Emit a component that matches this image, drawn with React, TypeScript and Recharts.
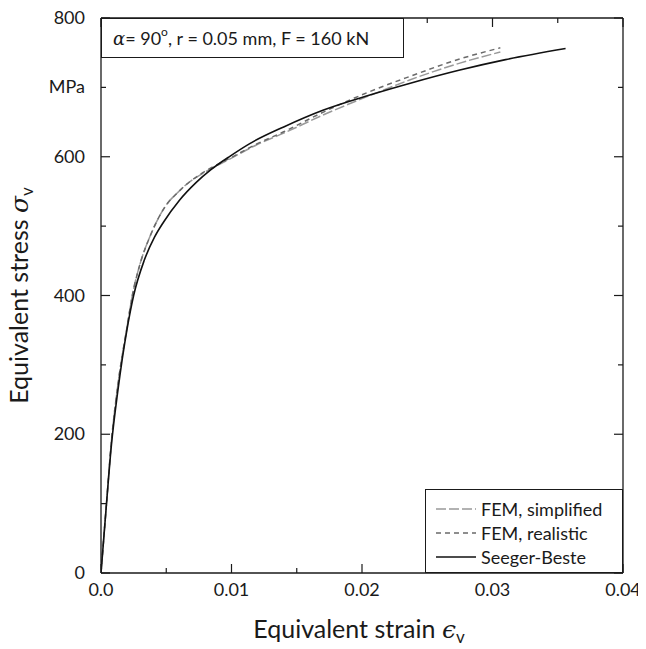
import React from 'react';
import { LineChart, Line, XAxis, YAxis, Legend } from 'recharts';

// ---- data (strain [-], stress [MPa]) ----
const strainSimplified = [0, 0.0004, 0.0008, 0.0013, 0.002, 0.0024, 0.003, 0.00375, 0.0045, 0.0051, 0.0058, 0.0068, 0.0078, 0.0099, 0.0119, 0.014, 0.017, 0.0211, 0.0237, 0.0275, 0.0306];
const stressSimplified = [0, 95, 190, 272, 355, 400, 446, 485, 515, 533, 547, 564, 576, 597, 617, 634, 660, 692, 711, 735, 751];

const strainRealistic = [0, 0.0004, 0.0008, 0.0013, 0.002, 0.0024, 0.003, 0.00375, 0.0045, 0.0051, 0.0058, 0.0068, 0.0078, 0.0099, 0.0119, 0.014, 0.017, 0.0206, 0.0237, 0.0275, 0.0306];
const stressRealistic = [0, 95, 190, 272, 355, 400, 446, 485, 515, 533, 547, 564, 577, 598, 618, 636, 664, 694, 716, 741, 757];

const strainSeeger = [0, 0.0004, 0.0008, 0.0013, 0.002, 0.0025, 0.0033, 0.0041, 0.0048, 0.006, 0.0073, 0.0084, 0.0099, 0.0114, 0.014, 0.017, 0.0206, 0.0237, 0.0275, 0.031, 0.0356];
const stressSeeger = [0, 95, 185, 264, 352, 400, 450, 484, 506, 537, 563, 581, 601, 619, 643, 667, 689, 706, 725, 740, 756];

const seriesNames = ['FEM, simplified', 'FEM, realistic', 'Seeger-Beste'];

const xTicks = [0, 0.005, 0.01, 0.015, 0.02, 0.025, 0.03, 0.035, 0.04];
const xTickLabels: Record<string, string> = { '0': '0.0', '0.01': '0.01', '0.02': '0.02', '0.03': '0.03', '0.04': '0.04' };
const yTicks = [0, 100, 200, 300, 400, 500, 600, 700, 800];
const yTickLabels: Record<string, string> = { '0': '0', '200': '200', '400': '400', '600': '600', '700': 'MPa', '800': '800' };

const toPoints = (xs: number[], ys: number[]) => xs.map((x, i) => ({ x, y: ys[i] }));
const dataSimplified = toPoints(strainSimplified, stressSimplified);
const dataRealistic = toPoints(strainRealistic, stressRealistic);
const dataSeeger = toPoints(strainSeeger, stressSeeger);

const FONT = "Lato, 'Open Sans', sans-serif";
const MATH = "'DejaVu Serif', 'Liberation Serif', serif";
const INK = '#1a1a1a';

const COL_SIMPLIFIED = '#999999';
const COL_REALISTIC = '#6a6a6a';
const COL_SEEGER = '#111111';

const isMajorX = (v: number) => Math.abs(v * 100 - Math.round(v * 100)) < 1e-6;
const isMajorY = (v: number) => v % 200 === 0;

const BottomTick = (props: any) => {
  const { x, y, payload } = props;
  const v = payload.value;
  const major = isMajorX(v);
  const lbl = xTickLabels[String(v)];
  return (
    <g>
      <line x1={x} x2={x} y1={y} y2={y - (major ? 9 : 5)} stroke={INK} strokeWidth={1.2} />
      {lbl && (
        <text x={x} y={y + 23} textAnchor="middle" fontSize={18} fontFamily={FONT} fill={INK}>{lbl}</text>
      )}
    </g>
  );
};

const TopTick = (props: any) => {
  const { x, y, payload } = props;
  const major = isMajorX(payload.value);
  return <line x1={x} x2={x} y1={y} y2={y + (major ? 9 : 5)} stroke={INK} strokeWidth={1.2} />;
};

const LeftTick = (props: any) => {
  const { x, y, payload } = props;
  const v = payload.value;
  const major = isMajorY(v);
  const lbl = yTickLabels[String(v)];
  return (
    <g>
      <line x1={x} x2={x + (major ? 9 : 5)} y1={y} y2={y} stroke={INK} strokeWidth={1.2} />
      {lbl && (
        <text x={x - 16} y={y + 6} textAnchor="end" fontSize={18} fontFamily={FONT} fill={INK}>{lbl}</text>
      )}
    </g>
  );
};

const RightTick = (props: any) => {
  const { x, y, payload } = props;
  const major = isMajorY(payload.value);
  return <line x1={x} x2={x - (major ? 9 : 5)} y1={y} y2={y} stroke={INK} strokeWidth={1.2} />;
};

const XTitle = (props: any) => {
  const vb = props.viewBox || {};
  const cx = vb.x + vb.width / 2 - 3;
  return (
    <text x={cx} y={vb.y + 65} textAnchor="middle" fontSize={25} fontFamily={FONT} fill={INK}>
      Equivalent strain{' '}
      <tspan fontFamily={MATH} fontStyle="italic">ϵ</tspan>
      <tspan fontSize={17} dy={5}>v</tspan>
    </text>
  );
};

const YTitle = (props: any) => {
  const vb = props.viewBox || {};
  const cy = vb.y + vb.height / 2;
  const bx = 28;
  return (
    <text x={bx} y={cy} transform={`rotate(-90, ${bx}, ${cy})`} textAnchor="middle" fontSize={25} fontFamily={FONT} fill={INK}>
      Equivalent stress{' '}
      <tspan fontFamily={MATH} fontStyle="italic">σ</tspan>
      <tspan fontSize={17} dy={5}>v</tspan>
    </text>
  );
};

const legendStyles = [
  { color: COL_SIMPLIFIED, dash: '10 3' },
  { color: COL_REALISTIC, dash: '5 4' },
  { color: COL_SEEGER, dash: undefined as string | undefined },
];

const renderLegend = () => (
  <div
    style={{
      boxSizing: 'border-box',
      width: 198,
      height: 84,
      border: `1.3px solid ${INK}`,
      background: '#fff',
      padding: '7px 0 0 10px',
      fontFamily: FONT,
      fontSize: 18,
      color: INK,
    }}
  >
    {seriesNames.map((name, i) => (
      <div key={name} style={{ display: 'flex', alignItems: 'center', height: 24 }}>
        <svg width={40} height={10} style={{ marginRight: 5 }}>
          <line x1={0} x2={40} y1={5} y2={5} stroke={legendStyles[i].color} strokeWidth={1.5} strokeDasharray={legendStyles[i].dash} />
        </svg>
        <span>{name}</span>
      </div>
    ))}
  </div>
);

export default function App() {
  return (
    <div style={{ position: 'relative', width: 646, height: 649, marginLeft: -8, marginTop: -8 }}>
      <LineChart width={646} height={649} margin={{ top: 0, right: 0, bottom: 0, left: 0 }}>
        <XAxis
          xAxisId="bottom"
          type="number"
          dataKey="x"
          domain={[0, 0.04]}
          ticks={xTicks}
          interval={0}
          height={76}
          tickSize={0}
          tickMargin={0}
          tickLine={false}
          axisLine={{ stroke: INK, strokeWidth: 1.3 }}
          tick={<BottomTick />}
          label={<XTitle />}
          allowDataOverflow
        />
        <XAxis
          xAxisId="top"
          orientation="top"
          type="number"
          dataKey="x"
          domain={[0, 0.04]}
          ticks={xTicks}
          interval={0}
          height={18}
          tickSize={0}
          tickMargin={0}
          tickLine={false}
          axisLine={{ stroke: INK, strokeWidth: 1.3 }}
          tick={<TopTick />}
          allowDataOverflow
        />
        <YAxis
          yAxisId="left"
          type="number"
          dataKey="y"
          domain={[0, 800]}
          ticks={yTicks}
          interval={0}
          width={101}
          tickSize={0}
          tickMargin={0}
          tickLine={false}
          axisLine={{ stroke: INK, strokeWidth: 1.3 }}
          tick={<LeftTick />}
          label={<YTitle />}
          allowDataOverflow
        />
        <YAxis
          yAxisId="right"
          orientation="right"
          type="number"
          dataKey="y"
          domain={[0, 800]}
          ticks={yTicks}
          interval={0}
          width={23}
          tickSize={0}
          tickMargin={0}
          tickLine={false}
          axisLine={{ stroke: INK, strokeWidth: 1.3 }}
          tick={<RightTick />}
          allowDataOverflow
        />
        <Line
          xAxisId="bottom"
          yAxisId="left"
          data={dataSimplified}
          dataKey="y"
          name={seriesNames[0]}
          type="monotone"
          stroke={COL_SIMPLIFIED}
          strokeWidth={1.5}
          strokeDasharray="10 3"
          dot={false}
          isAnimationActive={false}
        />
        <Line
          xAxisId="bottom"
          yAxisId="left"
          data={dataRealistic}
          dataKey="y"
          name={seriesNames[1]}
          type="monotone"
          stroke={COL_REALISTIC}
          strokeWidth={1.5}
          strokeDasharray="5 4"
          dot={false}
          isAnimationActive={false}
        />
        <Line
          xAxisId="bottom"
          yAxisId="left"
          data={dataSeeger}
          dataKey="y"
          name={seriesNames[2]}
          type="monotone"
          stroke={COL_SEEGER}
          strokeWidth={1.6}
          dot={false}
          isAnimationActive={false}
        />
        <Legend
          layout="horizontal"
          verticalAlign="middle"
          align="center"
          content={renderLegend}
          wrapperStyle={{ position: 'absolute', left: 425, top: 489, width: 198, height: 84, bottom: 'auto', right: 'auto' }}
        />
      </LineChart>
      <div
        style={{
          position: 'absolute',
          left: 101,
          top: 18,
          width: 303,
          height: 40,
          boxSizing: 'border-box',
          border: `1.3px solid ${INK}`,
          background: '#fff',
          fontFamily: FONT,
          fontSize: 18,
          color: INK,
          paddingLeft: 11,
          lineHeight: '38px',
          whiteSpace: 'nowrap',
        }}
      >
        <span style={{ fontFamily: MATH, fontStyle: 'italic' }}>α</span>= 90<sup style={{ fontSize: 12, verticalAlign: 'top', lineHeight: '26px' }}>o</sup>, r = 0.05 mm, F = 160 kN
      </div>
    </div>
  );
}
